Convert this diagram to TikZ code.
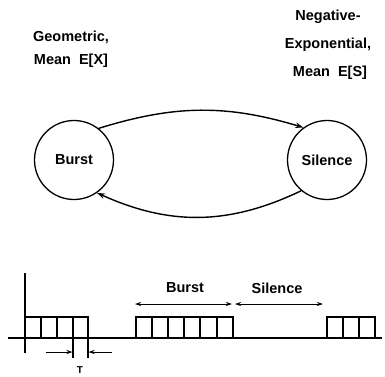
\documentclass[tikz,border=0pt]{standalone}
\usepackage{fontspec}
\setmainfont{Liberation Sans}
\usetikzlibrary{arrows.meta}
\begin{document}
\begin{tikzpicture}[x=1pt,y=1pt,
  lbl/.style={font=\fontsize{14.5}{16}\selectfont\bfseries, inner sep=0pt},
  state/.style={circle, draw, line width=1.3pt, minimum size=79pt, inner sep=0pt, font=\fontsize{14.5}{16}\selectfont\bfseries},
  trans/.style={line width=1.4pt, -{Stealth[length=8pt,width=5.5pt]}},
  dbl/.style={line width=1pt, {Stealth[length=6pt,width=4pt]}-{Stealth[length=6pt,width=4pt]}},
  sgl/.style={line width=1pt, -{Stealth[length=6pt,width=4pt]}},
  ln/.style={line width=1.2pt}]
\useasboundingbox (0,0) rectangle (385,376);
% top labels
\node[lbl] (g1) at (71,339) {Geometric,};
\node[lbl] (g2) at (71,315) {Mean\ \ E[X]};
\node[lbl] (n1) at (328,359) {Negative-};
\node[lbl] (n2) at (328,331) {Exponential,};
\node[lbl] (n3) at (330,303) {Mean\ \ E[S]};
% states
\node[state] (b) at (74,216) {Burst};
\node[state] (s) at (327,216) {Silence};
\draw[trans] (b.52) to[bend left=17] (s.126);
\draw[trans] (s.-130) to[bend left=25] (b.-55);
% time line
\draw[ln] (8,38) -- (382,38);
\draw[ln] (25,23) -- (25,103);
% block 1
\draw[ln] (25,38) rectangle (88,59);
\foreach \x in {41,57,73} \draw[ln] (\x,38) -- (\x,59);
% block 2
\draw[ln] (136,38) rectangle (233,59);
\foreach \x in {152,168,184,200,217} \draw[ln] (\x,38) -- (\x,59);
% block 3
\draw[ln] (327,38) rectangle (375,59);
\foreach \x in {343,359} \draw[ln] (\x,38) -- (\x,59);
% T marker
\draw[ln] (73,38) -- (73,18);
\draw[ln] (88,38) -- (88,18);
\coordinate (ta) at (46,24);
\coordinate (tb) at (72.5,24);
\coordinate (tc) at (112,24);
\coordinate (td) at (88.5,24);
\draw[sgl] (ta) -- (tb);
\draw[sgl] (tc) -- (td);
\node[font=\fontsize{10}{12}\selectfont\bfseries, inner sep=0pt] (t) at (80,6) {T};
% burst/silence arrows
\coordinate (ba) at (135,72);
\coordinate (bb) at (232,72);
\coordinate (sa) at (235,72);
\coordinate (sb) at (323,72);
\draw[dbl] (ba) -- (bb);
\draw[dbl] (sa) -- (sb);
\node[lbl] (bl) at (185,88) {Burst};
\node[lbl] (sl) at (277,88) {Silence};
\end{tikzpicture}
\end{document}
